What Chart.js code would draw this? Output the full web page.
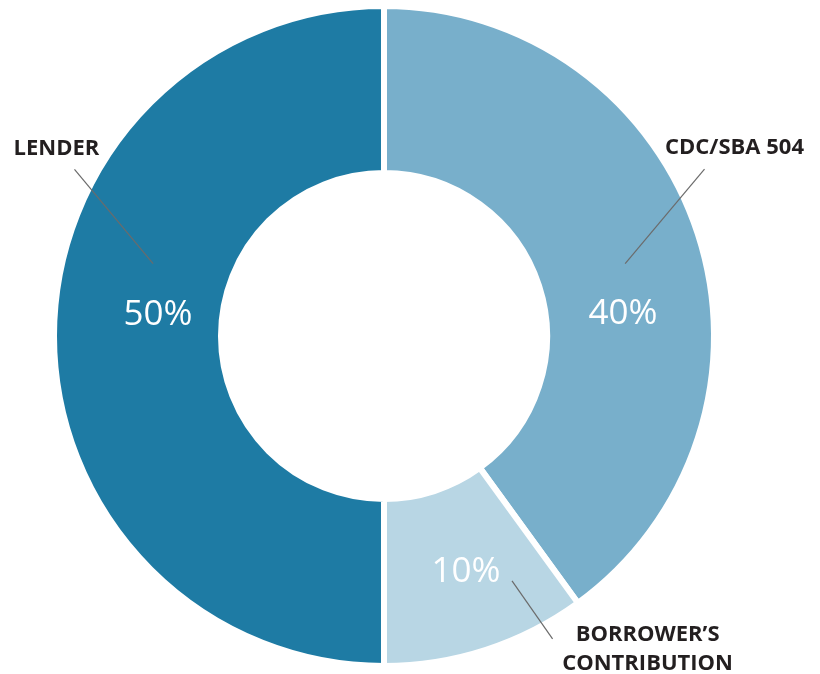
<!DOCTYPE html>
<html>
<head>
<meta charset="utf-8">
<script src="https://cdn.jsdelivr.net/npm/chart.js@4"></script>
<style>
  html, body { margin: 0; padding: 0; background: #fff; }
  #wrap { width: 820px; height: 674px; position: relative; }
</style>
</head>
<body>
<div id="wrap"><canvas id="funding"></canvas></div>
<script>
// DATA
const categories = ['CDC/SBA 504', 'BORROWER\u2019S CONTRIBUTION', 'LENDER'];
const shares = [40, 10, 50];
const sliceColors = ['#78afcb', '#b8d6e4', '#1e7ba4'];

// label placement: angles in degrees clockwise from top, radii as fraction of outer radius
const labelSpots = [
  { pctAngle: 84, pctR: 0.735, lineFrom: [73.3, 0.77], lineTo: [62.5, 1.105], text: ['CDC/SBA 504'], dx: 30, dy: -21 },
  { pctAngle: 160.6, pctR: 0.755, lineFrom: [152.4, 0.845], lineTo: [150.9, 1.06], text: ['BORROWER\u2019S', 'CONTRIBUTION'], dx: 95, dy: -4 },
  { pctAngle: 276, pctR: 0.695, lineFrom: [287.4, 0.74], lineTo: [298.3, 1.075], text: ['LENDER'], dx: -18, dy: -21 }
];

function polar(cx, cy, deg, r) {
  let a = deg * Math.PI / 180;
  return [cx + r * Math.sin(a), cy - r * Math.cos(a)];
}

const calloutPlugin = {
  id: 'callouts',
  afterDatasetsDraw(chart) {
    let ctx = chart.ctx;
    let arcs = chart.getDatasetMeta(0).data;
    ctx.save();
    for (let i = 0; i < arcs.length; ++i) {
      let arc = arcs[i];
      let R = arc.outerRadius - 3;
      let spot = labelSpots[i];

      // leader line
      let p1 = polar(arc.x, arc.y, spot.lineFrom[0], spot.lineFrom[1] * R);
      let p2 = polar(arc.x, arc.y, spot.lineTo[0], spot.lineTo[1] * R);
      ctx.strokeStyle = '#6b6b6b';
      ctx.lineWidth = 1.2;
      ctx.beginPath();
      ctx.moveTo(p1[0], p1[1]);
      ctx.lineTo(p2[0], p2[1]);
      ctx.stroke();

      // percentage
      let p = polar(arc.x, arc.y, spot.pctAngle, spot.pctR * R);
      ctx.fillStyle = '#ffffff';
      ctx.font = '35px "Open Sans"';
      ctx.textAlign = 'center';
      ctx.textBaseline = 'middle';
      ctx.fillText(shares[i] + '%', p[0], p[1] + 3);

      // category name
      ctx.fillStyle = '#231f20';
      ctx.font = 'bold 22px "Open Sans"';
      for (let j = 0; j < spot.text.length; ++j) {
        ctx.fillText(spot.text[j], p2[0] + spot.dx, p2[1] + spot.dy + j * 29);
      }
    }
    ctx.restore();
  }
};

new Chart(document.getElementById('funding'), {
  type: 'doughnut',
  data: {
    labels: categories,
    datasets: [{
      data: shares,
      backgroundColor: sliceColors,
      borderColor: '#ffffff',
      borderWidth: 6
    }]
  },
  options: {
    responsive: true,
    maintainAspectRatio: false,
    animation: false,
    cutout: '49.4%',
    layout: { padding: { left: 0, right: 52, top: 3, bottom: 5 } },
    plugins: {
      legend: { display: false },
      tooltip: { enabled: false }
    }
  },
  plugins: [calloutPlugin]
});
</script>
</body>
</html>
